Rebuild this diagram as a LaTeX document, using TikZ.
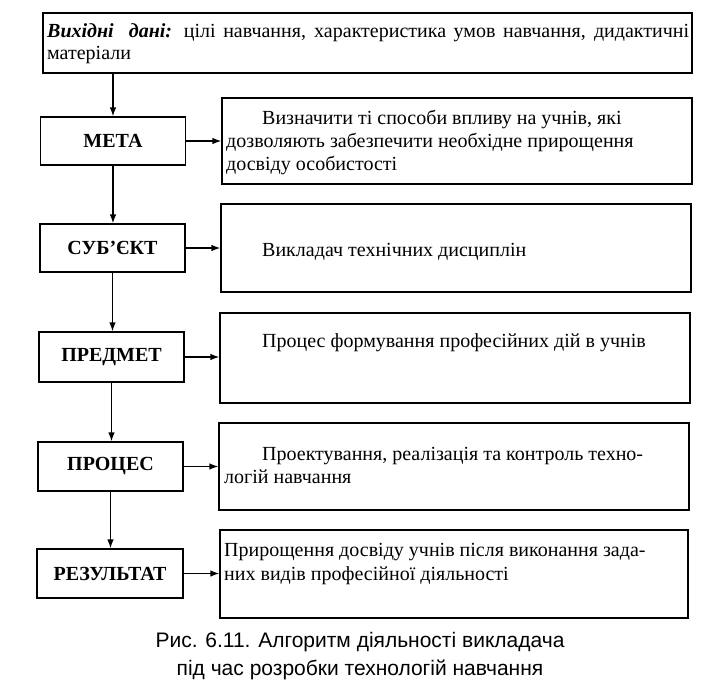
\documentclass[tikz,border=0pt]{standalone}
\usepackage{fontspec}
\setmainfont{Liberation Serif}
\newfontfamily\capfont{Liberation Sans}
\usetikzlibrary{arrows.meta}
\tikzset{
  lbox/.style={draw, line width=1.2pt, minimum width=145pt, minimum height=49pt, inner sep=0pt,
    font=\bfseries\fontsize{20}{23}\selectfont},
  rbox/.style={draw, line width=1.2pt, minimum width=470pt, inner sep=0pt},
  txt/.style={anchor=base west, inner sep=0pt, font=\fontsize{20}{23}\selectfont},
  arr/.style={line width=1.3pt, -{Latex[length=9pt,width=6.5pt]}},
  capt/.style={anchor=base, inner sep=0pt, font=\capfont\fontsize{21}{28}\selectfont}
}
\begin{document}
\begin{tikzpicture}[x=1pt,y=-1pt]
\useasboundingbox (0,0) rectangle (727,688);
% source box
\node[draw, line width=1.2pt, minimum width=649pt, minimum height=60pt, inner sep=0pt] (src) at (367.5,43) {};
\node[txt] (src1) at (47,37) {\makebox[642pt][s]{\textbf{\textit{Вихідні\ \ дані:}} цілі навчання, характеристика умов навчання, дидактичні}};
\node[txt] (src2) at (47,59) {матеріали};
% left boxes
\node[lbox, minimum height=48pt] (meta) at (113,141) {МЕТА};
\node[lbox, minimum height=48pt] (subj) at (112.5,248) {СУБ’ЄКТ};
\node[lbox, minimum height=50pt] (pred) at (111.5,357) {ПРЕДМЕТ};
\node[lbox, minimum height=49pt] (proc) at (110.5,466.5) {ПРОЦЕС};
\node[lbox, minimum height=49pt, minimum width=146pt] (res) at (110,573.5) {РЕЗУЛЬТАТ};
% right boxes
\node[rbox, minimum height=86pt] (r1) at (457,141) {};
\node[rbox, minimum height=88pt] (r2) at (456,248) {};
\node[rbox, minimum height=90pt] (r3) at (455,358) {};
\node[rbox, minimum height=87pt] (r4) at (454,466.5) {};
\node[rbox, minimum height=88pt, minimum width=468pt] (r5) at (454,574) {};
% texts in right boxes
\node[txt] (t1a) at (262,124) {Визначити ті способи впливу на учнів, які};
\node[txt] (t1b) at (226,147) {дозволяють забезпечити необхідне прирощення};
\node[txt] (t1c) at (226,170) {досвіду особистості};
\node[txt] (t2) at (262,256) {Викладач технічних дисциплін};
\node[txt] (t3) at (262,347) {Процес формування професійних дій в учнів};
\node[txt] (t4a) at (262,460) {Проектування, реалізація та контроль техно-};
\node[txt] (t4b) at (224,483) {логій навчання};
\node[txt] (t5a) at (224,556) {Прирощення досвіду учнів після виконання зада-};
\node[txt] (t5b) at (224,580) {них видів професійної діяльності};
% vertical arrows
\draw[arr] (src.south -| meta.north) -- (meta.north);
\draw[arr] (meta.south) -- (meta.south |- subj.north);
\draw[arr] (subj.south) -- (subj.south |- pred.north);
\draw[arr] (pred.south) -- (pred.south |- proc.north);
\draw[arr] (proc.south) -- (proc.south |- res.north);
% horizontal arrows
\draw[arr] (meta.east) -- (meta.east -| r1.west);
\draw[arr] (subj.east) -- (subj.east -| r2.west);
\draw[arr] (pred.east) -- (pred.east -| r3.west);
\draw[arr] (proc.east) -- (proc.east -| r4.west);
\draw[arr] (res.east) -- (res.east -| r5.west);
% caption
\node[capt] (cap1) at (360,647) {Рис. 6.11. Алгоритм діяльності викладача};
\node[capt] (cap2) at (360,675) {під час розробки технологій навчання};
\end{tikzpicture}
\end{document}
